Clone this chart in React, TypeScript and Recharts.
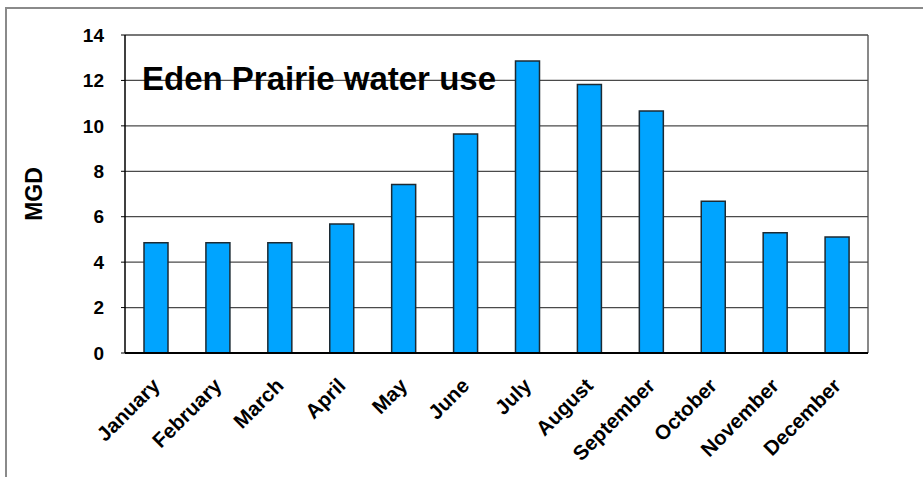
import React from 'react'
import { BarChart, Bar, XAxis, YAxis, CartesianGrid } from 'recharts'

// ---------------------------------------------------------------------------
// Data
// ---------------------------------------------------------------------------

const months = [
  'January',
  'February',
  'March',
  'April',
  'May',
  'June',
  'July',
  'August',
  'September',
  'October',
  'November',
  'December',
]

// million gallons per day
const mgdValues = [4.85, 4.85, 4.85, 5.68, 7.42, 9.64, 12.85, 11.82, 10.65, 6.68, 5.29, 5.11]

const yTicks = [0, 2, 4, 6, 8, 10, 12, 14]

const chartTitle = 'Eden Prairie water use'
const yAxisTitle = 'MGD'

const data = months.map((month, i) => ({ month, mgd: mgdValues[i] }))

// ---------------------------------------------------------------------------
// Styling
// ---------------------------------------------------------------------------

const FONT = '"Liberation Sans", Arial, Helvetica, sans-serif'
const BAR_BLUE = '#00a4ff'
const GRID = '#4a4a4a'

function MonthTick(props: any) {
  const { x, y, payload } = props
  return (
    <g transform={`translate(${x + 5},${y + 26})`}>
      <text
        transform="rotate(-45)"
        textAnchor="end"
        fontFamily={FONT}
        fontWeight={700}
        fontSize={20.5}
        fill="#000"
      >
        {payload.value}
      </text>
    </g>
  )
}

export default function App() {
  return (
    <div
      style={{
        position: 'fixed',
        left: 0,
        top: 0,
        width: 923,
        height: 477,
        overflow: 'hidden',
        background: '#fff',
        fontFamily: FONT,
      }}
    >
      {/* outer frame, only top and left edges fall inside the picture */}
      <div
        style={{
          position: 'absolute',
          left: 5,
          top: 7,
          width: 940,
          height: 500,
          border: '2px solid #8a8a8a',
        }}
      />

      <BarChart
        width={923}
        height={477}
        data={data}
        margin={{ top: 35, right: 55, left: 0, bottom: 34 }}
        barSize={24}
      >
        <CartesianGrid
          stroke={GRID}
          strokeWidth={1.3}
          // only the right-hand frame edge, taken from the plot offset
          verticalCoordinatesGenerator={({ offset }: any) => [offset.left + offset.width]}
        />
        <XAxis
          dataKey="month"
          interval={0}
          height={90}
          tickLine={false}
          axisLine={{ stroke: '#000', strokeWidth: 2 }}
          tick={<MonthTick />}
        />
        <YAxis
          domain={[0, 14]}
          ticks={yTicks}
          width={125}
          tickSize={4}
          tickMargin={17}
          tickLine={{ stroke: '#000' }}
          axisLine={{ stroke: '#000', strokeWidth: 1.5 }}
          tick={{ fill: '#000', fontSize: 19, fontWeight: 700, fontFamily: FONT }}
        />
        <Bar
          dataKey="mgd"
          fill={BAR_BLUE}
          stroke="#1c2a33"
          strokeWidth={1.5}
          isAnimationActive={false}
        />
      </BarChart>

      <div
        style={{
          position: 'absolute',
          left: 142,
          top: 62,
          fontSize: 33,
          lineHeight: 1,
          fontWeight: 700,
          color: '#000',
          whiteSpace: 'nowrap',
        }}
      >
        {chartTitle}
      </div>

      <div
        style={{
          position: 'absolute',
          left: 34,
          top: 194,
          fontSize: 23,
          lineHeight: 1,
          fontWeight: 700,
          color: '#000',
          transform: 'translate(-50%, -50%) rotate(-90deg)',
          whiteSpace: 'nowrap',
        }}
      >
        {yAxisTitle}
      </div>
    </div>
  )
}
